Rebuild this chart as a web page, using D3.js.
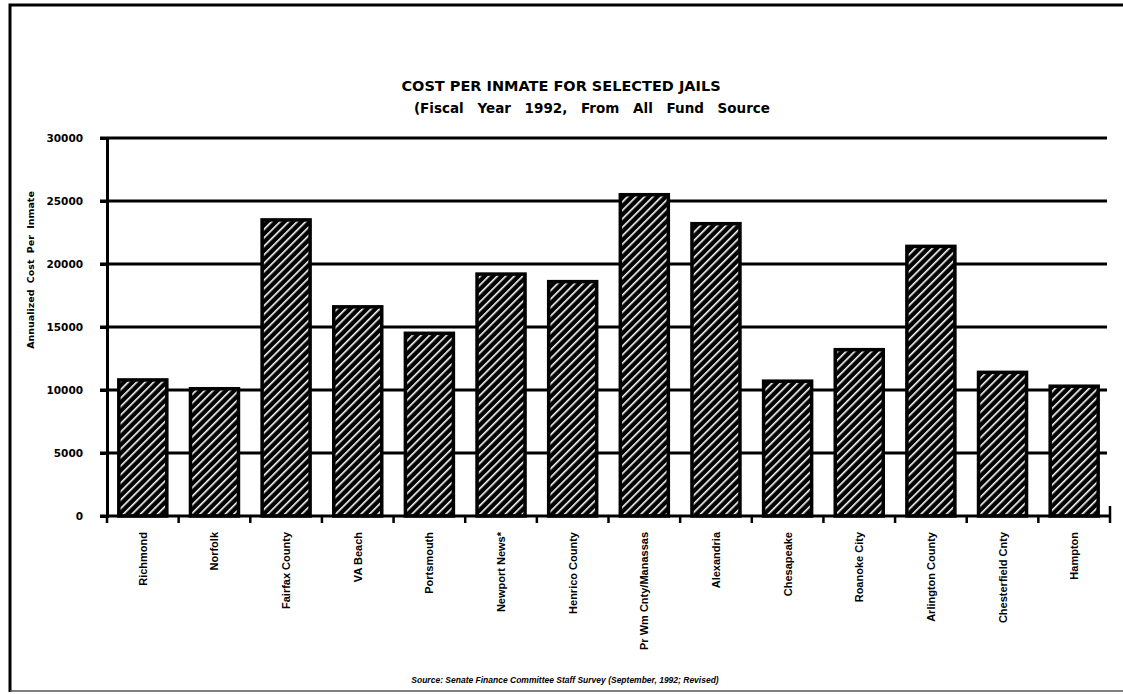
<!DOCTYPE html>
<html><head><meta charset="utf-8">
<script src="https://cdn.jsdelivr.net/npm/d3@7"></script>
<style>
html,body{margin:0;padding:0;background:#fff;}
svg{display:block;font-family:"Liberation Sans",Arial,sans-serif;}
</style></head>
<body>
<script>
const categories = ["Richmond","Norfolk","Fairfax County","VA Beach","Portsmouth","Newport News*","Henrico County","Pr Wm Cnty/Manassas","Alexandria","Chesapeake","Roanoke City","Arlington County","Chesterfield Cnty","Hampton"];
const values = [10800,10100,23500,16600,14500,19200,18600,25500,23200,10700,13200,21400,11400,10300];
const yTicks = [0,5000,10000,15000,20000,25000,30000];
const titleText = "COST PER INMATE FOR SELECTED JAILS";
const subtitleText = "(Fiscal Year 1992, From All Fund Source";
const yAxisTitle = "Annualized Cost Per Inmate";
const sourceText = "Source: Senate Finance Committee Staff Survey (September, 1992; Revised)";

const W = 1123, H = 694;
const HEAVY = "'DejaVu Sans', Verdana, sans-serif";
const LIB = "'Liberation Sans', Arial, sans-serif";
const svg = d3.select("body").append("svg").attr("width", W).attr("height", H);

// pattern
const defs = svg.append("defs");
const pat = defs.append("pattern").attr("id","hatch").attr("patternUnits","userSpaceOnUse")
  .attr("width",6).attr("height",6).attr("patternTransform","rotate(45)");
pat.append("rect").attr("width",6).attr("height",6).attr("fill","#000");
pat.append("rect").attr("x",0).attr("y",0).attr("width",1.6).attr("height",6).attr("fill","#fff");

// border
svg.append("path").attr("d",`M10,${H-2} L10,5 L${W},5`).attr("fill","none").attr("stroke","#000").attr("stroke-width",3);
svg.append("line").attr("x1",10).attr("x2",W).attr("y1",691).attr("y2",691).attr("stroke","#555").attr("stroke-width",1.5);

const x0 = 107, x1 = 1110, yTop = 138, yBot = 516;
const x = d3.scaleBand().domain(categories).range([x0,x1]).paddingInner(0.33).paddingOuter(0.165);
const y = d3.scaleLinear().domain([0,30000]).range([yBot,yTop]);

// gridlines
svg.append("g").selectAll("line").data(yTicks.filter(d=>d>0)).join("line")
  .attr("x1",100).attr("x2",1107).attr("y1",d=>y(d)).attr("y2",d=>y(d))
  .attr("stroke","#000").attr("stroke-width",3);

// y-axis
const yAxis = d3.axisLeft(y).tickValues(yTicks).tickSize(7).tickPadding(17).tickFormat(d3.format("d"));
const gy = svg.append("g").attr("transform",`translate(${x0},0)`).call(yAxis);
gy.attr("font-family",null).attr("font-size",null);
gy.select(".domain").attr("stroke","#000").attr("stroke-width",3);
gy.selectAll(".tick line").attr("stroke","#000").attr("stroke-width",3);
gy.selectAll(".tick text").style("font-family",HEAVY).style("font-size","10.5px").style("font-weight","bold").attr("fill","#000");

// bars
svg.append("g").selectAll("rect").data(values).join("rect")
  .attr("x",(d,i)=>x(categories[i])).attr("width",x.bandwidth())
  .attr("y",d=>y(d)).attr("height",d=>yBot-y(d))
  .attr("fill","url(#hatch)").attr("stroke","#000").attr("stroke-width",3.5);

// x-axis line + ticks at boundaries
svg.append("line").attr("x1",100).attr("x2",x1).attr("y1",yBot).attr("y2",yBot).attr("stroke","#000").attr("stroke-width",3);
const bounds = d3.range(categories.length+1).map(i=> x0 + i*(x1-x0)/categories.length);
svg.append("g").selectAll("line").data(bounds).join("line")
  .attr("x1",d=>d).attr("x2",d=>d)
  .attr("y1",(d,i)=> i===categories.length ? yBot-10 : yBot)
  .attr("y2",yBot+7).attr("stroke","#000").attr("stroke-width",2.5);

// x labels
svg.append("g").selectAll("text").data(categories).join("text")
  .attr("transform",d=>`translate(${x(d)+x.bandwidth()/2+4},532) rotate(-90)`)
  .attr("text-anchor","end")
  .style("font-family",LIB).style("font-size","11px").style("font-weight","bold")
  .text(d=>d);

// titles
svg.append("text").attr("x",561).attr("y",91).attr("text-anchor","middle")
  .style("font-family",HEAVY).style("font-size","14.5px").style("font-weight","bold").text(titleText);
svg.append("text").attr("x",592).attr("y",113).attr("text-anchor","middle")
  .style("font-family",HEAVY).style("font-size","13.5px").style("font-weight","bold").style("word-spacing","9px").text(subtitleText);

// y-axis title
svg.append("text").attr("transform","translate(34,270) rotate(-90)").attr("text-anchor","middle")
  .style("font-family",HEAVY).style("font-size","9.5px").style("font-weight","bold").style("word-spacing","3px").text(yAxisTitle);

// source
svg.append("text").attr("x",565).attr("y",683).attr("text-anchor","middle")
  .style("font-family",LIB).style("font-size","8.5px").style("font-weight","bold").style("font-style","italic").text(sourceText);
</script>
</body></html>
